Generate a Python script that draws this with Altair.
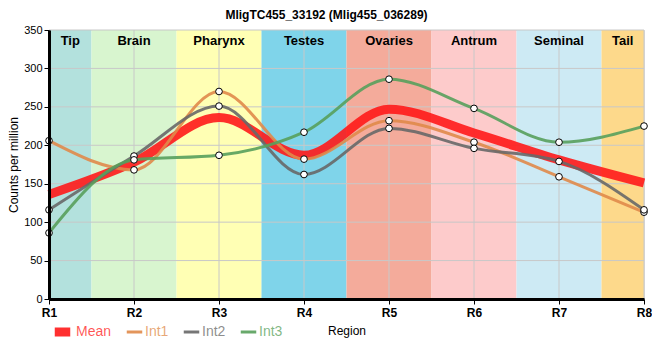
import altair as alt
import pandas as pd

title = "MligTC455_33192 (Mlig455_036289)"
regions = ["R1", "R2", "R3", "R4", "R5", "R6", "R7", "R8"]

series_names = ["Mean", "Int1", "Int2", "Int3"]
series_colors = ["#ff1a1a", "#e08a4a", "#686868", "#58a05c"]
series_widths = [9, 3, 3, 3]

mean_vals = [136, 178, 236, 187, 247, 216, 181, 151]
int1_vals = [206, 168, 270, 182, 232, 204, 159, 113]
int2_vals = [116, 186, 251, 162, 222, 196, 179, 116]
int3_vals = [86, 181, 187, 217, 286, 248, 204, 225]

band_names = ["Tip", "Brain", "Pharynx", "Testes", "Ovaries", "Antrum", "Seminal", "Tail"]
band_start = [1, 1.5, 2.5, 3.5, 4.5, 5.5, 6.5, 7.5]
band_end = [1.5, 2.5, 3.5, 4.5, 5.5, 6.5, 7.5, 8]
band_colors = ["#b3e1dd", "#d8f5cf", "#ffffb4", "#7fd4ea", "#f4ab9b", "#fdcbcb", "#cdeaf4", "#fdd98b"]

y_ticks = [0, 50, 100, 150, 200, 250, 300, 350]

W, H = 595, 269

rows = []
for name, vals in zip(series_names, [mean_vals, int1_vals, int2_vals, int3_vals]):
    for i, v in enumerate(vals):
        rows.append({"series": name, "pos": i + 1, "value": v})
df = pd.DataFrame(rows)
df_pts = df[df.series != "Mean"]

bands = pd.DataFrame({"band": band_names, "start": band_start, "end": band_end, "col": band_colors})
bands["mid"] = (bands.start + bands.end) / 2

xgrid = pd.DataFrame({"pos": list(range(1, len(regions) + 1))})
ygrid = pd.DataFrame({"v": y_ticks})

xscale = alt.Scale(domain=[1, 8], nice=False, zero=False)
yscale = alt.Scale(domain=[0, 350], nice=False)

xaxis = alt.Axis(values=list(range(1, 9)), labelExpr="'R' + datum.value", grid=False,
                 title="Region", domainColor="black", domainWidth=3, tickColor="black",
                 tickSize=5, labelFontSize=12, labelFontWeight="bold", labelColor="black",
                 labelFont="Liberation Sans", titleFont="Liberation Sans", titleFontSize=12,
                 titleFontWeight="normal", titlePadding=7, labelPadding=3, zindex=2,
                 labelFlush=False, labelOverlap=False)
yaxis = alt.Axis(values=y_ticks, grid=False, title="Counts per million", domainColor="black",
                 domainWidth=3, tickColor="black", tickSize=5, labelFontSize=11,
                 labelColor="black", labelFont="Liberation Sans", titleFont="Liberation Sans",
                 titleFontSize=12, titleFontWeight="normal", titlePadding=3, zindex=2,
                 labelFlush=False, labelOverlap=False, labelBound=False)

band_layer = alt.Chart(bands).mark_rect().encode(
    x=alt.X("start:Q", scale=xscale, axis=xaxis),
    x2="end:Q",
    y=alt.Y(datum=0, scale=yscale, axis=yaxis),
    y2=alt.datum(350),
    fill=alt.Fill("col:N", scale=None),
)

band_text = alt.Chart(bands).mark_text(fontWeight="bold", fontSize=13, font="Liberation Sans",
                                        color="black", baseline="middle").encode(
    x=alt.X("mid:Q", scale=xscale, axis=xaxis),
    y=alt.value(11),
    text="band:N",
)

vgrid = alt.Chart(xgrid).mark_rule(color="#c8c8c8", strokeWidth=1).encode(
    x=alt.X("pos:Q", scale=xscale, axis=xaxis))
hgrid = alt.Chart(ygrid).mark_rule(color="#c8c8c8", strokeWidth=1).encode(
    y=alt.Y("v:Q", scale=yscale, axis=yaxis))

legend = alt.Legend(title=None, orient="none", legendX=1, legendY=292, direction="horizontal",
                    symbolType="stroke", symbolSize=240, labelFontSize=14,
                    labelFont="Liberation Sans", columnPadding=13, symbolOpacity=0.9,
                    clipHeight=20, labelOffset=1,
                    labelColor={"expr": "scale('color', datum.value)"}, labelOpacity=0.75)

lines = alt.Chart(df).mark_line(interpolate="monotone", opacity=0.9).encode(
    x=alt.X("pos:Q", scale=xscale, axis=xaxis),
    y=alt.Y("value:Q", scale=yscale, axis=yaxis),
    color=alt.Color("series:N", scale=alt.Scale(domain=series_names, range=series_colors),
                    legend=legend),
    strokeWidth=alt.StrokeWidth("series:N",
                                scale=alt.Scale(type="ordinal", domain=series_names, range=series_widths),
                                legend=legend),
    order=alt.Order("pos:Q"),
)

points = alt.Chart(df_pts).mark_point(shape="circle", filled=False, fill="white", fillOpacity=1,
                                      stroke="black", strokeWidth=1, size=45, opacity=1).encode(
    x=alt.X("pos:Q", scale=xscale, axis=xaxis),
    y=alt.Y("value:Q", scale=yscale, axis=yaxis),
)

chart = alt.layer(band_layer, vgrid, hgrid, band_text, lines, points).properties(
    width=W, height=H,
    title=alt.Title(title, fontSize=12, fontWeight="bold", font="Liberation Sans",
                    anchor="middle", dx=-20, offset=2),
    autosize=alt.AutoSizeParams(type="none"),
    padding={"left": 41, "top": 22, "right": 8, "bottom": 50},
).configure_view(stroke="black", strokeWidth=2).configure(background="white")

chart.save("out.html", embed_options={"renderer": "svg", "actions": False})
